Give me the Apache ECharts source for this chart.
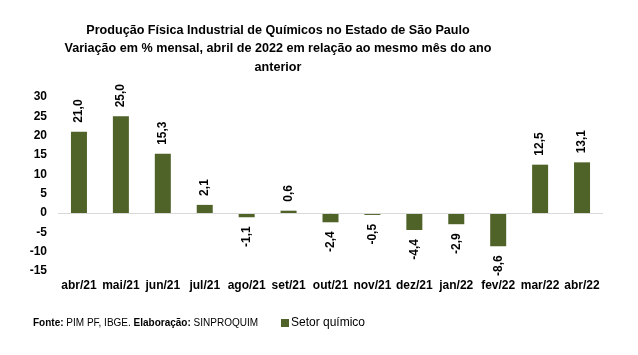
<!DOCTYPE html>
<html><head><meta charset="utf-8">
<script src="https://cdn.jsdelivr.net/npm/echarts@6/dist/echarts.min.js"></script>
<style>html,body{margin:0;padding:0;background:#fff}#c{width:638px;height:355px}</style>
</head><body><div id="c"></div>
<script>
const categories = ['abr/21','mai/21','jun/21','jul/21','ago/21','set/21','out/21','nov/21','dez/21','jan/22','fev/22','mar/22','abr/22'];
const values = [21.0, 25.0, 15.3, 2.1, -1.1, 0.6, -2.4, -0.5, -4.4, -2.9, -8.6, 12.5, 13.1];
const yTicks = {min: -15, max: 30, interval: 5};
const titleLines = ['Produção Física Industrial de Químicos no Estado de São Paulo','Variação em % mensal, abril de 2022 em relação ao mesmo mês do ano','anterior'];
const seriesName = 'Setor químico';

const chart = echarts.init(document.getElementById('c'));
const fmt = v => v.toFixed(1).replace('.', ',');
chart.setOption({
  animation: false,
  title: {
    text: titleLines.join('\n'),
    left: 273, top: 16, textAlign: 'center',
    textStyle: {fontFamily: 'Liberation Sans, Arial', fontWeight: 'bold', fontSize: 12.6, lineHeight: 18.5, color: '#000'}
  },
  grid: {left: 58, right: 35, top: 97, bottom: 84},
  legend: {
    left: 276, top: 312, itemWidth: 8, itemHeight: 8, itemGap: 4,
    icon: 'rect',
    textStyle: {fontFamily: 'Liberation Sans, Arial', fontSize: 12, color: '#000', padding: [0,0,0,-3]},
    data: [seriesName]
  },
  graphic: [{
    type: 'text', left: 33, top: 318,
    style: {
      text: '{b|Fonte:} PIM PF, IBGE. {b|Elaboração:} SINPROQUIM',
      fontFamily: 'Liberation Sans, Arial', fontSize: 10, fill: '#000',
      rich: {b: {fontWeight: 'bold', fontFamily: 'Liberation Sans, Arial', fontSize: 10}}
    }
  }],
  xAxis: {
    type: 'category', data: categories,
    axisLine: {show: false, onZero: false}, axisTick: {show: false},
    axisLabel: {interval: 0, margin: 9, fontFamily: 'Liberation Sans, Arial', fontWeight: 'bold', fontSize: 12, color: '#000'}
  },
  yAxis: {
    type: 'value', min: yTicks.min, max: yTicks.max, interval: yTicks.interval,
    splitLine: {show: false}, axisLine: {show: false}, axisTick: {show: false},
    axisLabel: {margin: 11, fontFamily: 'Liberation Sans, Arial', fontWeight: 'bold', fontSize: 12, color: '#000'}
  },
  series: [{
    name: seriesName, type: 'bar', barWidth: 16,
    itemStyle: {color: '#4F6228'},
    data: values.map(v => ({
      value: v,
      label: {
        show: true, rotate: 90,
        position: v >= 0 ? 'top' : 'bottom',
        align: v >= 0 ? 'left' : 'right',
        verticalAlign: 'middle',
        distance: 9,
        formatter: () => fmt(v),
        fontFamily: 'Liberation Sans, Arial', fontWeight: 'bold', fontSize: 12, color: '#000'
      }
    })),
    markLine: {
      silent: true, symbol: 'none', label: {show: false},
      lineStyle: {color: '#d9d9d9', type: 'solid', width: 1},
      data: [{yAxis: 0}]
    }
  }]
});
</script></body></html>
